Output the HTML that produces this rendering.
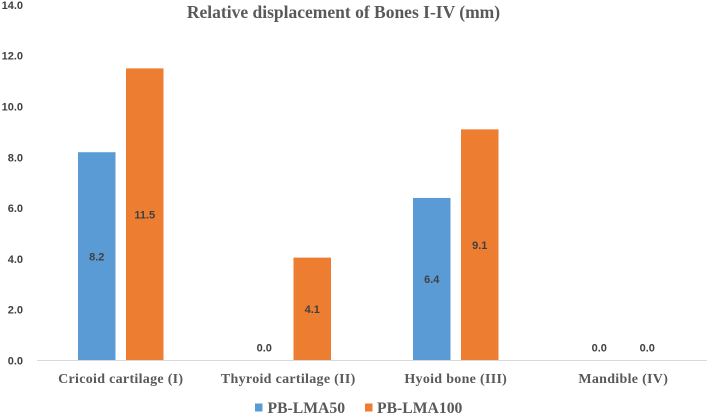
<!DOCTYPE html>
<html>
<head>
<meta charset="utf-8">
<title>Relative displacement of Bones I-IV (mm)</title>
<style>
html,body{margin:0;padding:0;background:#fff;width:708px;height:415px;overflow:hidden}
svg{display:block}
text{font-family:"Liberation Sans",sans-serif}
.serif{font-family:"Liberation Serif",serif;font-weight:bold;fill:#595959}
.num{font-family:"Liberation Sans",sans-serif;font-weight:bold;font-size:11px;fill:#404040}
</style>
</head>
<body>
<svg id="chart" width="708" height="415" viewBox="0 0 708 415" xmlns="http://www.w3.org/2000/svg">
<text class="serif" x="343.5" y="18" text-anchor="middle" font-size="17.5">Relative displacement of Bones I-IV (mm)</text>
<g id="y-axis"></g>
<g id="bars"></g>
<g id="x-axis"></g>
<g>
<g>
<rect x="255" y="403.5" width="7.5" height="8" fill="#5b9bd5"></rect>
<text class="serif" x="267.5" y="413" font-size="15.7">PB-LMA50</text>
</g>
<g>
<rect x="365" y="403.5" width="7.5" height="8" fill="#ed7d31"></rect>
<text class="serif" x="377" y="413" font-size="15.7">PB-LMA100</text>
</g>
</g>
</svg>
<script>
const categories = ["Cricoid cartilage (I)", "Thyroid cartilage (II)", "Hyoid bone (III)", "Mandible (IV)"];
const seriesLma50 = [8.2, 0.0, 6.4, 0.0];
const seriesLma100 = [11.5, 4.05, 9.1, 0.0];
const printedLma50 = ["8.2", "0.0", "6.4", "0.0"];
const printedLma100 = ["11.5", "4.1", "9.1", "0.0"];
const yTicks = ["0.0", "2.0", "4.0", "6.0", "8.0", "10.0", "12.0", "14.0"];

const NS = "http://www.w3.org/2000/svg";
const plotLeft = 37, plotRight = 707, baseY = 360.5, unitPx = 25.4;
const barW = 37.5, barGap = 10.5;
const colorA = "#5b9bd5", colorB = "#ed7d31";

function yScale(v) { return baseY - v * unitPx; }
function groupCenter(i) { return plotLeft + (plotRight - plotLeft) * (i + 0.5) / categories.length; }

const yAxis = document.getElementById("y-axis");
const xAxis = document.getElementById("x-axis");
const barsG = document.getElementById("bars");

yTicks.forEach(function (t) {
  const el = document.createElementNS(NS, "text");
  
  
  el.setAttribute("class", "num");
  el.setAttribute("x", 23);
  el.setAttribute("y", yScale(parseFloat(t)) + 4);
  el.setAttribute("text-anchor", "end");
  el.textContent = t;
  yAxis.appendChild(el);
});

const axisLine = document.createElementNS(NS, "line");


axisLine.setAttribute("x1", plotLeft);
axisLine.setAttribute("x2", plotRight);
axisLine.setAttribute("y1", baseY);
axisLine.setAttribute("y2", baseY);
axisLine.setAttribute("stroke", "#d9d9d9");
axisLine.setAttribute("stroke-width", "1");
xAxis.appendChild(axisLine);

categories.forEach(function (c, i) {
  const el = document.createElementNS(NS, "text");
  
  
  el.setAttribute("class", "serif");
  el.setAttribute("x", groupCenter(i));
  el.setAttribute("y", 383);
  el.setAttribute("text-anchor", "middle");
  el.setAttribute("font-size", "14");
  el.setAttribute("letter-spacing", "0.3");
  el.textContent = c;
  xAxis.appendChild(el);
});

function drawSeries(values, printed, color, side) {
  values.forEach(function (v, i) {
    const cx = groupCenter(i) + side * (barW + barGap) / 2;
    const top = yScale(v);
    if (v > 0) {
      const r = document.createElementNS(NS, "rect");
      
      
      r.setAttribute("x", cx - barW / 2);
      r.setAttribute("y", top);
      r.setAttribute("width", barW);
      r.setAttribute("height", baseY - top);
      r.setAttribute("fill", color);
      barsG.appendChild(r);
    }
    const t = document.createElementNS(NS, "text");
    
    
    t.setAttribute("class", "num");
    t.setAttribute("x", cx);
    t.setAttribute("y", v > 0 ? (top + baseY) / 2 + 4 : baseY - 9);
    t.setAttribute("text-anchor", "middle");
    t.textContent = printed[i];
    barsG.appendChild(t);
  });
}
drawSeries(seriesLma50, printedLma50, colorA, -1);
drawSeries(seriesLma100, printedLma100, colorB, 1);
</script>
</body>
</html>
